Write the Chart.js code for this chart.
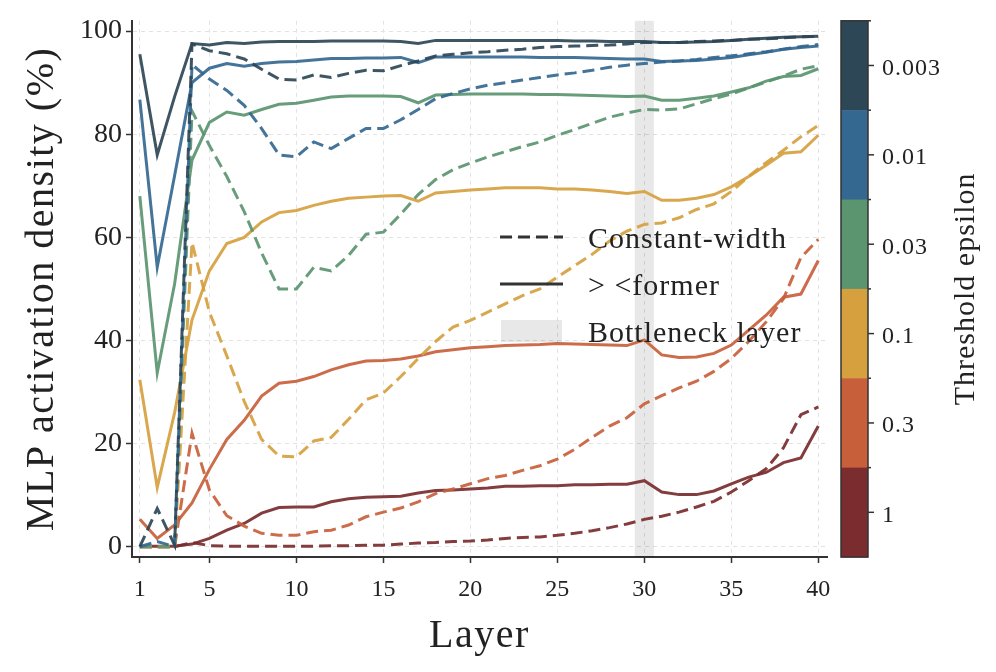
<!DOCTYPE html>
<html>
<head>
<meta charset="utf-8">
<script src="https://cdn.jsdelivr.net/npm/chart.js@4.4.1/dist/chart.umd.min.js"></script>
<style>
  html, body { margin: 0; padding: 0; background: #fff; }
</style>
</head>
<body>
<canvas id="grafico" width="996" height="672"></canvas>
<script>
// camadas (eixo x)
const layers = [1, 2, 3, 4, 5, 6, 7, 8, 9, 10, 11, 12, 13, 14, 15, 16, 17, 18, 19, 20,
                21, 22, 23, 24, 25, 26, 27, 28, 29, 30, 31, 32, 33, 34, 35, 36, 37, 38, 39, 40];
const xTicks = [1, 5, 10, 15, 20, 25, 30, 35, 40];
const yTicks = [0, 20, 40, 60, 80, 100];
const bottleneck = [29.45, 30.55];

// threshold epsilon
const epsilons = ["0.003", "0.01", "0.03", "0.1", "0.3", "1"];
const epsColors = ["#2e4757", "#346890", "#5b9570", "#d6a03e", "#c85f3b", "#7a2c2e"];

// Constant-width (tracejado)
const cw_0003 = [0, 7.4, 0.3, 97.5, 96.2, 95.6, 94.6, 92.6, 90.7, 90.5, 91.5, 91, 91.8, 92.4, 92.3, 93.3, 94.2, 95.2, 95.5, 95.8,
                 96, 96.3, 96.5, 96.8, 97, 97.1, 97.2, 97.3, 97.5, 97.8, 97.8, 97.8, 98, 98.1, 98.2, 98.4, 98.5, 98.7, 98.9, 99];
const cw_001 = [0, 1, 0, 93.5, 90.7, 88.5, 85.6, 81.1, 76, 75.6, 78.5, 77.2, 79.2, 81.1, 81.1, 82.8, 84.8, 86.9, 87.9, 88.8,
                89.5, 90, 90.5, 91, 91.5, 91.9, 92.4, 93, 93.4, 93.7, 94, 94.2, 94.5, 94.9, 95.2, 95.6, 96, 96.5, 97, 97.4];
const cw_003 = [0, 0, 0, 84.5, 77.8, 71.8, 65, 57, 50, 50, 54.2, 53.5, 56.5, 60.6, 61, 64.5, 68.3, 71.2, 73.1, 74.4,
                75.6, 76.6, 77.6, 78.5, 79.8, 80.9, 82.1, 83.3, 84.1, 84.8, 84.7, 84.9, 85.9, 86.9, 87.8, 89, 90.1, 91.3, 92.6, 93.3];
const cw_01 = [0, 0, 0, 59, 45.5, 37, 28.2, 20.8, 17.6, 17.4, 20.5, 21.2, 24.7, 28.5, 29.8, 33, 36.5, 39.8, 42.6, 43.9,
               45.5, 47.1, 48.7, 50, 52.3, 54.5, 56.7, 59.3, 61.2, 62.5, 62.8, 63.8, 65.4, 66.5, 68.9, 71.8, 74.5, 76.9, 79.5, 81.7];
const cw_03 = [0, 0, 0, 22, 11, 6, 4, 2.6, 2.2, 2.2, 2.9, 3.2, 4.2, 5.8, 6.7, 7.5, 8.7, 10.3, 11.2, 12.2,
               13.2, 13.8, 14.8, 15.7, 17, 18.9, 21.2, 23.4, 25, 27.7, 29.3, 30.8, 32.1, 34, 36.5, 39.8, 43.6, 48.1, 56.1, 59.6];
const cw_1 = [0, 0, 0, 0.8, 0.2, 0.1, 0.1, 0.1, 0.1, 0.1, 0.1, 0.2, 0.2, 0.3, 0.3, 0.5, 0.7, 0.8, 1, 1.1,
              1.3, 1.6, 1.8, 1.9, 2.2, 2.6, 3.1, 3.7, 4.4, 5.3, 5.9, 6.7, 7.7, 8.8, 10.6, 12.8, 15.1, 19.2, 25.6, 27.1];

// > <former (contínuo)
const f_0003 = [95.5, 76, 87.3, 97.6, 97.3, 97.8, 97.6, 97.9, 98, 98, 98, 98.1, 98.1, 98.1, 98.1, 98, 97.6, 98.2, 98.2, 98.2,
                98.2, 98.2, 98.2, 98.2, 98.2, 98.1, 98.1, 98, 98, 98, 97.8, 97.8, 97.9, 98, 98.2, 98.4, 98.6, 98.8, 98.9, 99];
const f_001 = [86.7, 54.2, 72, 90, 92.8, 93.7, 93.2, 93.7, 94, 94.1, 94.4, 94.7, 94.7, 94.8, 94.8, 94.9, 93.9, 95, 95, 95,
               95, 95, 95, 94.9, 94.9, 94.9, 94.8, 94.7, 94.6, 94.6, 94.1, 94.2, 94.3, 94.6, 94.9, 95.4, 95.9, 96.5, 96.8, 97.1];
const f_003 = [68, 33.7, 51, 75, 82.3, 84.3, 83.7, 84.8, 85.8, 86, 86.6, 87.2, 87.4, 87.4, 87.4, 87.3, 86.1, 87.6, 87.7, 87.8,
               87.8, 87.8, 87.8, 87.7, 87.7, 87.6, 87.5, 87.4, 87.3, 87.4, 86.6, 86.6, 87, 87.4, 88.2, 89, 90.3, 91.2, 91.4, 92.7];
const f_01 = [32.4, 11.5, 26, 44, 53.5, 58.8, 60, 63, 64.8, 65.2, 66.2, 67, 67.6, 67.8, 68, 68.1, 67, 68.6, 68.9, 69.2,
              69.4, 69.6, 69.6, 69.6, 69.4, 69.4, 69.2, 68.9, 68.5, 68.9, 67.2, 67.2, 67.6, 68.3, 69.8, 71.8, 74, 76.3, 76.6, 79.8];
const f_03 = [5.3, 1.6, 4.2, 8.5, 15, 20.8, 24.5, 29.2, 31.7, 32.1, 33, 34.3, 35.3, 36, 36.1, 36.4, 37, 37.8, 38.2, 38.6,
              38.8, 39, 39.1, 39.2, 39.4, 39.3, 39.2, 39.1, 39, 40.1, 37.2, 36.7, 36.8, 37.5, 39.1, 42, 44.9, 48.4, 49, 55.5];
const f_1 = [0.1, 0.1, 0.1, 0.5, 1.6, 3.2, 4.5, 6.5, 7.6, 7.7, 7.7, 8.7, 9.3, 9.6, 9.7, 9.8, 10.4, 10.9, 11, 11.2,
             11.4, 11.7, 11.7, 11.8, 11.8, 12, 12, 12.1, 12.1, 12.8, 10.6, 10.1, 10.1, 10.8, 12.2, 13.5, 14.4, 16.3, 17.2, 23.4];

const constantWidth = [cw_0003, cw_001, cw_003, cw_01, cw_03, cw_1];
const former = [f_0003, f_001, f_003, f_01, f_03, f_1];

const FONT = "'Liberation Serif', 'Times New Roman', serif";
const TEXT = "#222";
const DASH = [12, 6];

function hexAlpha(hex, a) {
    let r = parseInt(hex.slice(1, 3), 16), g = parseInt(hex.slice(3, 5), 16), b = parseInt(hex.slice(5, 7), 16);
    return "rgba(" + r + "," + g + "," + b + "," + a + ")";
}

let datasets = [];
epsilons.forEach((eps, i) => {
    datasets.push({
        label: "former " + eps,
        data: layers.map((l, k) => ({ x: l, y: former[i][k] })),
        borderColor: hexAlpha(epsColors[i], 0.92),
        borderWidth: 3,
        pointRadius: 0,
        tension: 0
    });
    datasets.push({
        label: "constant " + eps,
        data: layers.map((l, k) => ({ x: l, y: constantWidth[i][k] })),
        borderColor: hexAlpha(epsColors[i], 0.92),
        borderWidth: 3,
        borderDash: DASH,
        pointRadius: 0,
        tension: 0
    });
});

// faixa da camada gargalo
const bottleneckBand = {
    id: "bottleneckBand",
    beforeDatasetsDraw(chart) {
        const { ctx, chartArea, scales } = chart;
        let x0 = scales.x.getPixelForValue(bottleneck[0]);
        let x1 = scales.x.getPixelForValue(bottleneck[1]);
        ctx.save();
        ctx.fillStyle = "rgba(0,0,0,0.09)";
        ctx.fillRect(x0, chartArea.top, x1 - x0, chartArea.bottom - chartArea.top);
        ctx.restore();
    }
};

// legenda manual
const legendaManual = {
    id: "legendaManual",
    afterDatasetsDraw(chart) {
        const ctx = chart.ctx;
        ctx.save();
        ctx.strokeStyle = "#333";
        ctx.lineWidth = 3;
        ctx.setLineDash(DASH);
        ctx.beginPath(); ctx.moveTo(500, 237); ctx.lineTo(563, 237); ctx.stroke();
        ctx.setLineDash([]);
        ctx.beginPath(); ctx.moveTo(500, 284); ctx.lineTo(563, 284); ctx.stroke();
        ctx.fillStyle = "rgba(0,0,0,0.09)";
        ctx.fillRect(501, 320, 61, 22);
        ctx.fillStyle = TEXT;
        ctx.font = "30px " + FONT;
        ctx.letterSpacing = "1px";
        ctx.textBaseline = "alphabetic";
        ctx.textAlign = "left";
        ctx.fillText("Constant-width", 588, 248);
        ctx.fillText("> <former", 588, 295);
        ctx.fillText("Bottleneck layer", 588, 342);
        ctx.restore();
    }
};

// titulos dos eixos
const titulos = {
    id: "titulos",
    afterDraw(chart) {
        const { ctx, chartArea } = chart;
        ctx.save();
        ctx.fillStyle = TEXT;
        ctx.font = "40px " + FONT;
        ctx.letterSpacing = "1.5px";
        ctx.textAlign = "center";
        ctx.textBaseline = "alphabetic";
        ctx.fillText("Layer", (chartArea.left + chartArea.right) / 2, 647);
        ctx.translate(53, (chartArea.top + chartArea.bottom) / 2);
        ctx.rotate(-Math.PI / 2);
        ctx.fillText("MLP activation density (%)", 0, 0);
        ctx.restore();
    }
};

// barra de cores
const colorbar = {
    id: "colorbar",
    afterDraw(chart) {
        const { ctx, chartArea } = chart;
        const x0 = 841, w = 27;
        const top = chartArea.top, bottom = chartArea.bottom;
        const h = (bottom - top) / epsilons.length;
        ctx.save();
        epsilons.forEach((eps, i) => {
            ctx.fillStyle = epsColors[i];
            ctx.fillRect(x0, top + i * h, w, h + 0.5);
        });
        ctx.strokeStyle = "#333";
        ctx.lineWidth = 1.5;
        ctx.strokeRect(x0, top, w, bottom - top);
        ctx.fillStyle = TEXT;
        ctx.font = "24px " + FONT;
        ctx.letterSpacing = "1px";
        ctx.textBaseline = "middle";
        epsilons.forEach((eps, i) => {
            let yc = top + (i + 0.5) * h;
            ctx.beginPath(); ctx.moveTo(x0 + w, yc); ctx.lineTo(x0 + w + 6, yc); ctx.stroke();
            ctx.fillText(eps, x0 + w + 14, yc + 3);
            let yb = top + i * h;
            ctx.beginPath(); ctx.moveTo(x0 + w, yb); ctx.lineTo(x0 + w + 3, yb); ctx.stroke();
        });
        ctx.translate(966, (top + bottom) / 2);
        ctx.rotate(-Math.PI / 2);
        ctx.textAlign = "center";
        ctx.font = "30px " + FONT;
        ctx.fillText("Threshold epsilon", 0, 0);
        ctx.restore();
    }
};

let ctx = document.getElementById("grafico").getContext("2d");
new Chart(ctx, {
    type: "line",
    data: { datasets: datasets },
    options: {
        responsive: false,
        animation: false,
        layout: { padding: { left: 0, right: 169, top: 16, bottom: 0 } },
        plugins: { legend: { display: false }, tooltip: { enabled: false } },
        scales: {
            x: {
                type: "linear",
                min: 0.55,
                max: 40.5,
                afterBuildTicks: scale => { scale.ticks = xTicks.map(v => ({ value: v })); },
                afterFit: scale => { scale.height = 115; },
                grid: { color: "#e2e2e2", lineWidth: 1, tickColor: "#333", tickLength: 6, tickWidth: 1.5 },
                border: { color: "#333", width: 2, dash: [4, 4] },
                ticks: { color: TEXT, font: { family: FONT, size: 24 }, padding: 12, maxRotation: 0 }
            },
            y: {
                min: -2,
                max: 102,
                afterBuildTicks: scale => { scale.ticks = yTicks.map(v => ({ value: v })); },
                afterFit: scale => { scale.width = 132; },
                grid: { color: "#e2e2e2", lineWidth: 1, tickColor: "#333", tickLength: 6, tickWidth: 1.5 },
                border: { color: "#333", width: 2, dash: [4, 4] },
                ticks: { color: TEXT, font: { family: FONT, size: 28 }, padding: 4 }
            }
        }
    },
    plugins: [bottleneckBand, legendaManual, titulos, colorbar]
});
</script>
</body>
</html>
